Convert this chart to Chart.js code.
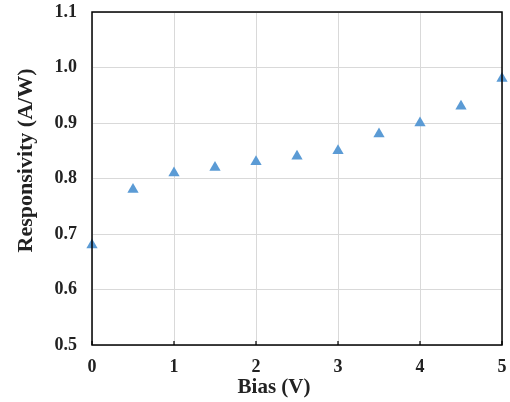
<!DOCTYPE html>
<html><head><meta charset="utf-8">
<script src="https://cdn.jsdelivr.net/npm/chart.js@4"></script>
<style>html,body{margin:0;padding:0;background:#fff}#c{display:block}</style>
</head><body>
<canvas id="c" width="510" height="402"></canvas>
<script>
const biasV = [0, 0.5, 1, 1.5, 2, 2.5, 3, 3.5, 4, 4.5, 5];
const responsivity = [0.68, 0.78, 0.81, 0.82, 0.83, 0.84, 0.85, 0.88, 0.90, 0.93, 0.98];
const xTicks = [0, 1, 2, 3, 4, 5];
const yTicks = [0.5, 0.6, 0.7, 0.8, 0.9, 1.0, 1.1];
const xTitle = 'Bias (V)';
const yTitle = 'Responsivity (A/W)';

const FONT = "'Liberation Serif', 'Times New Roman', serif";

const framePlugin = {
  id: 'frame',
  afterDatasetsDraw(chart) {
    const {ctx, chartArea: a, scales} = chart;
    ctx.save();
    ctx.strokeStyle = '#000';
    ctx.lineWidth = 1.5;
    ctx.strokeRect(a.left, a.top, a.right - a.left, a.bottom - a.top);
    ctx.lineWidth = 1.2;
    ctx.beginPath();
    xTicks.forEach(v => {
      const px = scales.x.getPixelForValue(v);
      ctx.moveTo(px, a.bottom);
      ctx.lineTo(px, a.bottom - 4);
    });
    ctx.stroke();
    // axis titles
    ctx.fillStyle = '#222';
    ctx.textAlign = 'center';
    ctx.textBaseline = 'middle';
    ctx.font = 'bold 21px ' + FONT;
    ctx.fillText(xTitle, (a.left + a.right) / 2 - 23, a.bottom + 43);
    ctx.translate(a.left - 66, (a.top + a.bottom) / 2 - 18);
    ctx.rotate(-Math.PI / 2);
    ctx.font = 'bold 22px ' + FONT;
    ctx.fillText(yTitle, 0, 0);
    ctx.restore();
  }
};

new Chart(document.getElementById('c'), {
  type: 'scatter',
  data: {
    datasets: [{
      data: biasV.map((x, i) => ({x, y: responsivity[i]})),
      pointStyle: 'triangle',
      pointRadius: 6.5,
      pointHoverRadius: 6.5,
      backgroundColor: '#5B9BD5',
      borderColor: '#5B9BD5',
      borderWidth: 0,
      clip: false
    }]
  },
  options: {
    responsive: false,
    animation: false,
    events: [],
    layout: {padding: {left: 0, right: 8, top: 12, bottom: 0}},
    plugins: {legend: {display: false}, tooltip: {enabled: false}},
    scales: {
      x: {
        type: 'linear', min: 0, max: 5,
        afterBuildTicks(s) { s.ticks = xTicks.map(v => ({value: v})); },
        afterFit(s) { s.height = 57; s.paddingLeft = 0; s.paddingRight = 0; },
        grid: {color: '#d9d9d9', lineWidth: 1, drawTicks: false},
        border: {display: false},
        ticks: {padding: 12, color: '#222', font: {family: FONT, size: 18, weight: 'bold'}, maxRotation: 0},
        title: {display: false}
      },
      y: {
        type: 'linear', min: 0.5, max: 1.1,
        afterBuildTicks(s) { s.ticks = yTicks.map(v => ({value: v})); },
        afterFit(s) { s.width = 92; s.paddingTop = 0; s.paddingBottom = 0; },
        grid: {color: '#d9d9d9', lineWidth: 1, drawTicks: false},
        border: {display: false},
        ticks: {padding: 15, color: '#222', font: {family: FONT, size: 18, weight: 'bold'},
          callback: v => Number(v).toFixed(1)},
        title: {display: false}
      }
    }
  },
  plugins: [framePlugin]
});
</script>
</body></html>
